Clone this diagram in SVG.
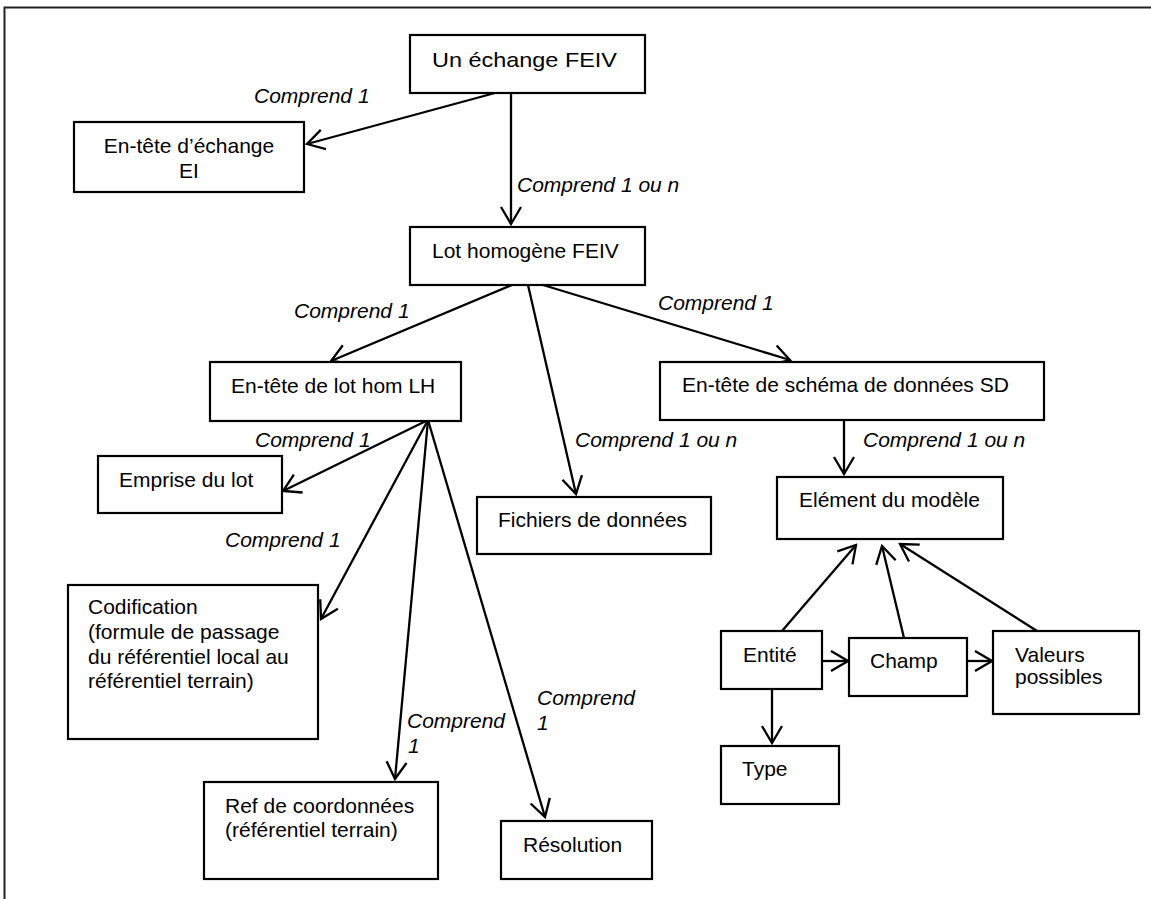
<svg xmlns="http://www.w3.org/2000/svg" width="1151" height="899" viewBox="0 0 1151 899">
<style>
  .box { fill: #ffffff; stroke: #000000; stroke-width: 2.2; }
  .t { font-family: "Liberation Sans", Arial, sans-serif; font-size: 21px; fill: #000000; }
  .lbl { font-family: "Liberation Sans", Arial, sans-serif; font-size: 21px; font-style: italic; fill: #000000; }
  .c { fill: none; stroke: #000000; stroke-width: 2.3; marker-end: url(#arr); }
  .frame { fill: none; stroke: #222222; stroke-width: 2; }
</style>
<defs>
  <marker id="arr" markerUnits="userSpaceOnUse" viewBox="-20 -13 22 26" refX="0" refY="0" markerWidth="22" markerHeight="26" orient="auto">
    <path d="M-17,-10 L0,0 L-17,10" fill="none" stroke="#000000" stroke-width="2.3"/>
  </marker>
</defs>
<rect width="1151" height="899" fill="#ffffff"/>
<path class="frame" d="M4.5,899 L4.5,7.5 L1151,7.5"/>

<g id="connectors">
  <line class="c" x1="495" y1="93" x2="307" y2="144"/>
  <line class="c" x1="511" y1="93" x2="511" y2="224"/>
  <line class="c" x1="512" y1="285" x2="331" y2="361"/>
  <line class="c" x1="528" y1="285" x2="576" y2="494"/>
  <line class="c" x1="543" y1="285" x2="790" y2="360"/>
  <line class="c" x1="844" y1="420" x2="844" y2="474"/>
  <line class="c" x1="428" y1="420" x2="283" y2="491"/>
  <line class="c" x1="428" y1="420" x2="321" y2="619"/>
  <line class="c" x1="428" y1="420" x2="395" y2="779"/>
  <line class="c" x1="428" y1="420" x2="545" y2="817"/>
  <line class="c" x1="782" y1="631" x2="856" y2="545"/>
  <line class="c" x1="904" y1="638" x2="882" y2="546"/>
  <line class="c" x1="1037" y1="631" x2="900" y2="544"/>
  <line class="c" x1="822" y1="661" x2="848" y2="661"/>
  <line class="c" x1="967" y1="661" x2="992" y2="661"/>
  <line class="c" x1="772" y1="689" x2="772" y2="743"/>
  <text class="lbl" x="254" y="103">Comprend 1</text>
  <text class="lbl" x="517" y="192">Comprend 1 ou n</text>
  <text class="lbl" x="294" y="318">Comprend 1</text>
  <text class="lbl" x="658" y="310">Comprend 1</text>
  <text class="lbl" x="575" y="447">Comprend 1 ou n</text>
  <text class="lbl" x="863" y="447">Comprend 1 ou n</text>
  <text class="lbl" x="255" y="447">Comprend 1</text>
  <text class="lbl" x="225" y="547">Comprend 1</text>
  <text class="lbl" x="407" y="728">Comprend</text>
  <text class="lbl" x="408" y="753">1</text>
  <text class="lbl" x="537" y="705">Comprend</text>
  <text class="lbl" x="537" y="730">1</text>
</g>

<g id="n-echange">
  <rect class="box" x="410" y="35" width="235" height="58"/>
  <text class="t" x="432" y="67" textLength="185" lengthAdjust="spacingAndGlyphs">Un échange FEIV</text>
</g>
<g id="n-entete-echange">
  <rect class="box" x="74" y="122" width="230" height="70"/>
  <text class="t" x="189" y="153" text-anchor="middle">En-tête d’échange</text>
  <text class="t" x="189" y="178" text-anchor="middle">EI</text>
</g>
<g id="n-lot">
  <rect class="box" x="410" y="227" width="235" height="58"/>
  <text class="t" x="432" y="258">Lot homogène FEIV</text>
</g>
<g id="n-lh">
  <rect class="box" x="210" y="362" width="251" height="59"/>
  <text class="t" x="231" y="393">En-tête de lot hom LH</text>
</g>
<g id="n-sd">
  <rect class="box" x="660" y="362" width="384" height="58"/>
  <text class="t" x="682" y="392">En-tête de schéma de données SD</text>
</g>
<g id="n-emprise">
  <rect class="box" x="98" y="456" width="184" height="57"/>
  <text class="t" x="119" y="487">Emprise du lot</text>
</g>
<g id="n-fichiers">
  <rect class="box" x="477" y="497" width="234" height="57"/>
  <text class="t" x="498" y="527">Fichiers de données</text>
</g>
<g id="n-element">
  <rect class="box" x="777" y="477" width="226" height="62"/>
  <text class="t" x="799" y="507">Elément du modèle</text>
</g>
<g id="n-codification">
  <rect class="box" x="68" y="585" width="250" height="154"/>
  <text class="t" x="88" y="614">Codification</text>
  <text class="t" x="88" y="639">(formule de passage</text>
  <text class="t" x="88" y="664">du référentiel local au</text>
  <text class="t" x="88" y="688">référentiel terrain)</text>
</g>
<g id="n-ref">
  <rect class="box" x="204" y="782" width="234" height="97"/>
  <text class="t" x="225" y="813">Ref de coordonnées</text>
  <text class="t" x="225" y="837">(référentiel terrain)</text>
</g>
<g id="n-resolution">
  <rect class="box" x="501" y="821" width="151" height="58"/>
  <text class="t" x="523" y="852">Résolution</text>
</g>
<g id="n-entite">
  <rect class="box" x="721" y="631" width="101" height="58"/>
  <text class="t" x="743" y="662">Entité</text>
</g>
<g id="n-champ">
  <rect class="box" x="849" y="638" width="118" height="58"/>
  <text class="t" x="870" y="668">Champ</text>
</g>
<g id="n-valeurs">
  <rect class="box" x="993" y="631" width="146" height="83"/>
  <text class="t" x="1015" y="662">Valeurs</text>
  <text class="t" x="1015" y="684">possibles</text>
</g>
<g id="n-type">
  <rect class="box" x="721" y="746" width="118" height="58"/>
  <text class="t" x="742" y="776">Type</text>
</g>
</svg>
